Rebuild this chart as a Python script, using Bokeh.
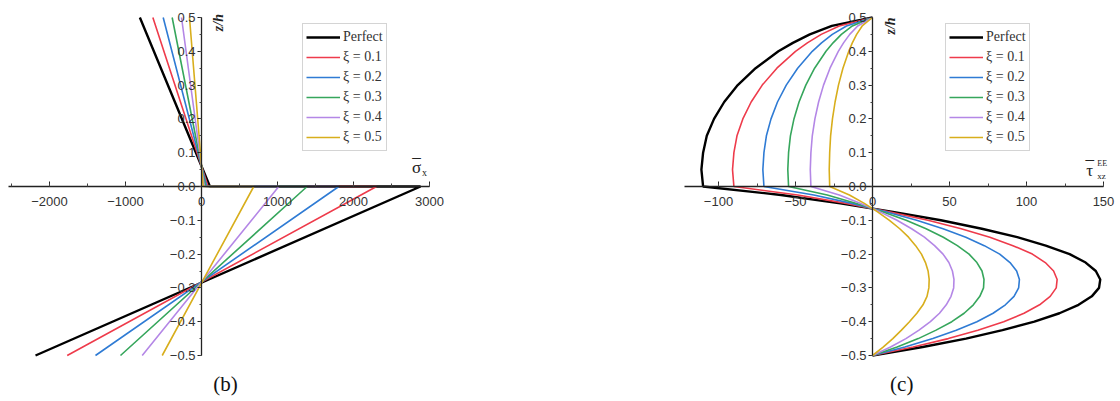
from bokeh.plotting import figure
from bokeh.models import Range1d, SingleIntervalTicker, CustomJSTickFormatter, Legend, LegendItem, Label
from bokeh.layouts import row
from bokeh.embed import file_html
from bokeh.resources import INLINE

# ---- shared series info ----
series_names = ["Perfect", "ξ = 0.1", "ξ = 0.2", "ξ = 0.3", "ξ = 0.4", "ξ = 0.5"]
series_colors = ["#000000", "#ee3b4b", "#2f7bd4", "#36a65c", "#b487e6", "#d8ae1c"]
series_widths = [2.4, 1.6, 1.6, 1.6, 1.6, 1.6]

# ---- panel (b): in-plane normal stress sigma_x through the thickness ----
z_sigma = [0.5, 0.0, 0.0, -0.5]
sigma_perfect = [-811, 111, 2882, -2184]
sigma_01 = [-640, 87, 2303, -1767]
sigma_02 = [-504, 69, 1807, -1395]
sigma_03 = [-386, 53, 1390, -1066]
sigma_04 = [-263, 36, 1017, -780]
sigma_05 = [-158, 22, 688, -517]
sigma_series = [sigma_perfect, sigma_01, sigma_02, sigma_03, sigma_04, sigma_05]

# ---- panel (c): transverse shear stress tau_xz through the thickness ----
z_tau = [0.5, 0.475, 0.45, 0.425, 0.4, 0.35, 0.3, 0.25, 0.2, 0.15, 0.1, 0.05, 0.0,
         -0.025, -0.05, -0.075, -0.1, -0.125, -0.15, -0.175, -0.2, -0.225, -0.25,
         -0.275, -0.3, -0.325, -0.35, -0.375, -0.4, -0.425, -0.45, -0.475, -0.5]
tau_perfect = [0, -26.4, -40.7, -51.7, -61.1, -75.9, -87.5, -96.3, -102.9, -107.6, -110.0, -111.1, -110.0,
               -59.4, -20.9, 13.3, 44.4, 71.0, 94.0, 112.5, 128.0, 138.4, 145.0, 147.9, 147.1, 142.4,
               133.8, 121.4, 105.1, 84.4, 60.7, 32.6, 0]
tau_01 = [0, -21.6, -33.3, -42.3, -50.0, -62.1, -71.6, -78.8, -84.2, -88.0, -90.0, -90.9, -90.0,
          -48.6, -17.1, 10.8, 36.0, 57.6, 76.2, 91.2, 103.8, 112.2, 117.6, 119.9, 119.3, 115.4,
          108.5, 98.4, 85.2, 68.4, 49.2, 26.4, 0]
tau_02 = [0, -16.9, -26.1, -33.1, -39.1, -48.6, -56.0, -61.7, -65.9, -68.9, -70.5, -71.2, -70.5,
          -38.1, -13.4, 8.6, 28.7, 45.8, 60.6, 72.6, 82.6, 89.3, 93.6, 95.4, 94.9, 91.9,
          86.3, 78.3, 67.8, 54.4, 39.2, 21.0, 0]
tau_03 = [0, -13.1, -20.2, -25.6, -30.2, -37.6, -43.3, -47.7, -51.0, -53.3, -54.5, -55.0, -54.5,
          -29.4, -10.4, 6.5, 21.8, 34.8, 46.0, 55.1, 62.7, 67.8, 71.1, 72.4, 72.1, 69.7,
          65.5, 59.5, 51.5, 41.3, 29.7, 16.0, 0]
tau_04 = [0, -9.6, -14.8, -18.8, -22.2, -27.6, -31.8, -35.0, -37.4, -39.1, -40.0, -40.4, -40.0,
          -21.6, -7.6, 4.8, 15.9, 25.4, 33.7, 40.3, 45.8, 49.6, 51.9, 52.9, 52.7, 51.0,
          47.9, 43.5, 37.6, 30.2, 21.7, 11.7, 0]
tau_05 = [0, -6.7, -10.3, -13.1, -15.4, -19.2, -22.1, -24.3, -26.0, -27.2, -27.8, -28.1, -27.8,
          -15.0, -5.3, 3.3, 11.0, 17.7, 23.4, 28.0, 31.8, 34.4, 36.1, 36.8, 36.6, 35.4,
          32.8, 28.8, 24.0, 18.8, 13.2, 6.9, 0]
tau_series = [tau_perfect, tau_01, tau_02, tau_03, tau_04, tau_05]

# ---- page geometry ----
W, H = 560, 401
Z0_PX = 186.0          # pixel row of z = 0
PX_PER_Z = 338.0       # pixels per unit z/h
Y_RANGE = (-(H - Z0_PX) / PX_PER_Z, Z0_PX / PX_PER_Z)

SANS = "Liberation Sans"
SERIF = "Liberation Serif"
TICK_COLOR = "#333333"

fmt_int = CustomJSTickFormatter(code="""
    const v = Math.round(tick);
    return (v < 0 ? '\\u2212' : '') + Math.abs(v).toFixed(0);
""")
fmt_dec = CustomJSTickFormatter(code="""
    const s = Math.abs(tick).toFixed(1);
    return (tick < -1e-9 ? '\\u2212' : '') + s;
""")


def make_panel(origin_px, px_per_unit, x_bounds, x_interval, x_vals, z_vals, legend_left):
    x_range = Range1d(-origin_px / px_per_unit, (W - origin_px) / px_per_unit)
    p = figure(width=W, height=H, x_range=x_range, y_range=Range1d(*Y_RANGE),
               output_backend="svg", toolbar_location=None,
               min_border_left=0, min_border_right=0, min_border_top=0, min_border_bottom=0)
    p.outline_line_color = None
    p.grid.visible = False
    p.background_fill_color = "white"
    p.border_fill_color = "white"

    renderers = []
    for vals, col, lw in zip(x_vals, series_colors, series_widths):
        r = p.line(vals, z_vals, line_color=col, line_width=lw)
        renderers.append(r)

    xa = p.xaxis[0]
    xa.fixed_location = 0
    xa.bounds = x_bounds
    xa.ticker = SingleIntervalTicker(interval=x_interval, num_minor_ticks=2)
    xa.formatter = fmt_int
    xa.major_tick_in = 5
    xa.major_tick_out = 0
    xa.minor_tick_in = 3
    xa.minor_tick_out = 0
    xa.major_label_standoff = 10
    ya = p.yaxis[0]
    ya.fixed_location = 0
    ya.bounds = (-0.5, 0.5)
    ya.ticker = SingleIntervalTicker(interval=0.1, num_minor_ticks=2)
    ya.formatter = fmt_dec
    ya.major_tick_in = 0
    ya.major_tick_out = 4
    ya.minor_tick_in = 0
    ya.minor_tick_out = 2
    ya.major_label_standoff = 2
    for ax in (xa, ya):
        ax.axis_line_color = "#222222"
        ax.axis_line_width = 1.3
        ax.major_tick_line_color = "#222222"
        ax.minor_tick_line_color = "#444444"
        ax.major_label_text_font = SANS
        ax.major_label_text_font_size = "13px"
        ax.major_label_text_color = TICK_COLOR

    legend = Legend(items=[LegendItem(label=n, renderers=[r]) for n, r in zip(series_names, renderers)],
                    location=(legend_left, 250), orientation="vertical",
                    glyph_width=34, glyph_height=20, label_height=20, spacing=0,
                    padding=3, margin=0, label_standoff=3,
                    label_text_font=SERIF, label_text_font_size="14px", label_text_color="#333333",
                    border_line_color="#aaaaaa", border_line_width=1,
                    background_fill_color="white", background_fill_alpha=1.0)
    p.add_layout(legend, "center")
    return p


def add_text(p, x, y, text, size, align="center", **kw):
    p.add_layout(Label(x=x, y=y, text=text, text_font=SERIF, text_font_size=size,
                       text_color=kw.pop("color", "#222222"), text_align=align,
                       text_baseline="middle", **kw))


# panel (b)
pb = make_panel(201, 0.076, (-2540, 3000), 1000, sigma_series, z_sigma, 302)
add_text(pb, 224, 0.485, "z/h", "14px", angle=1.5708, text_font_style="bold italic")
add_text(pb, 2829, 0.056, "σ", "17px")
add_text(pb, 2829, 0.063, "\u00af", "17px")
add_text(pb, 2935, 0.040, "x", "10px")
add_text(pb, 316, -0.583, "(b)", "21px", color="#111111")

# panel (c)
pc = make_panel(312, 1.54, (-122, 150), 50, tau_series, z_tau, 385)
add_text(pc, 12, 0.475, "z/h", "14px", angle=1.5708, text_font_style="bold italic")
add_text(pc, 141, 0.047, "τ", "17px")
add_text(pc, 141, 0.055, "\u00af", "17px")
add_text(pc, 146, 0.030, "xz", "9px", align="left")
add_text(pc, 146, 0.068, "EE", "8px", align="left")
add_text(pc, 19, -0.583, "(c)", "21px", color="#111111")

layout = row(pb, pc)
open("out.html", "w").write(file_html(layout, INLINE))
